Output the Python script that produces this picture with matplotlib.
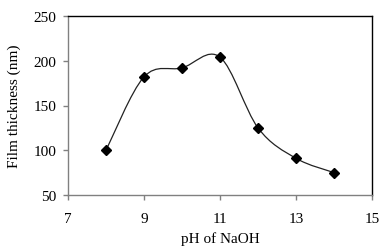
import numpy as np
import matplotlib
matplotlib.use("Agg")
import matplotlib.pyplot as plt
from matplotlib.path import Path
from matplotlib.patches import PathPatch

ph = [8, 9, 10, 11, 12, 13, 14]
thickness = [100, 182, 192, 204, 125, 91, 75]
xticks = [7, 9, 11, 13, 15]
yticks = [50, 100, 150, 200, 250]

plt.rcParams['font.family'] = ['Liberation Serif', 'DejaVu Serif']

fig = plt.figure(figsize=(3.92, 2.53), dpi=100)
ax = fig.add_axes([68/392, 1-196/253, (372-68)/392, (196-17)/253])

# Excel-like smoothed line (cardinal Bezier through the points)
x = np.array(ph, float)
y = np.array(thickness, float)
n = len(x)
verts = [(x[0], y[0])]
codes = [Path.MOVETO]
t = 1/6
for i in range(n-1):
    p0 = (x[i-1], y[i-1]) if i > 0 else (x[i], y[i])
    p1 = (x[i], y[i])
    p2 = (x[i+1], y[i+1])
    p3 = (x[i+2], y[i+2]) if i+2 < n else (x[i+1], y[i+1])
    c1 = (p1[0] + (p2[0]-p0[0])*t, p1[1] + (p2[1]-p0[1])*t)
    c2 = (p2[0] - (p3[0]-p1[0])*t, p2[1] - (p3[1]-p1[1])*t)
    verts += [c1, c2, p2]
    codes += [Path.CURVE4]*3
ax.add_patch(PathPatch(Path(verts, codes), fill=False, edgecolor='#222222', lw=0.9))
ax.plot(ph, thickness, linestyle='none', marker='D', color='black', markersize=4.6)

ax.set_xlim(7, 15)
ax.set_ylim(50, 250)
ax.set_xticks(xticks)
ax.set_yticks(yticks)
ax.tick_params(direction='out', length=3.5, width=1, color='#808080', labelsize=11)
ax.tick_params(axis='x', pad=9)
ax.tick_params(axis='y', pad=5)
for s in ['left', 'bottom']:
    ax.spines[s].set_color('#808080')
for s in ['top', 'right']:
    ax.spines[s].set_color('black')
for s in ax.spines.values():
    s.set_linewidth(1)
ax.set_xlabel('pH of NaOH', fontsize=11, labelpad=4)
ax.set_ylabel('Film thickness (nm)', fontsize=11, labelpad=9)

fig.savefig('out.png', dpi=100)
